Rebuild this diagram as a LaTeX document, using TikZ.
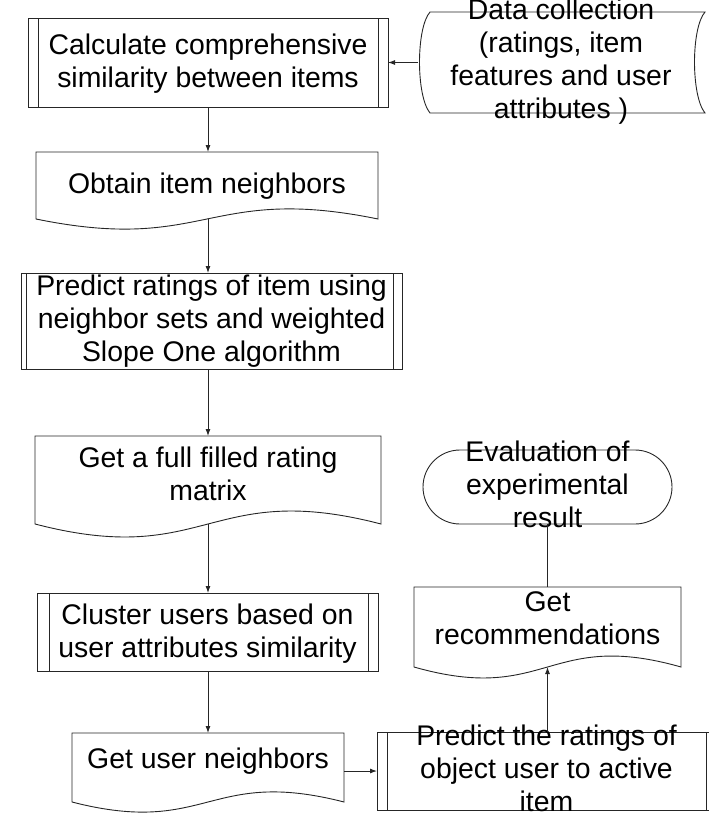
\documentclass[tikz,border=0pt]{standalone}
\usepackage{fontspec}
\setmainfont{Liberation Sans}
\usetikzlibrary{arrows.meta,calc}

% drawing helpers for the flowchart symbols
\newcommand\predefshape[3]{% node, left inset, right inset
  \draw[outline] (#1.north west) rectangle (#1.south east);
  \draw[outline] ([xshift=#2]#1.north west) -- ([xshift=#2]#1.south west)
                 ([xshift=-#3]#1.north east) -- ([xshift=-#3]#1.south east);}
\newcommand\docshape[2]{% node, wave amplitude
  \draw[outline] (#1.south west) -- (#1.north west) -- (#1.north east) -- (#1.south east)
    .. controls ([yshift=#2]#1.south) and ([yshift=-#2]#1.south) .. (#1.south west) -- cycle;}

\tikzset{
  box/.style={draw=none, rectangle, inner sep=0pt, outer sep=0pt},
  txt/.style={font=\fontsize{28.4}{33}\selectfont, align=center, inner sep=0pt, text=black},
  outline/.style={draw=black!85, line width=0.9pt},
  flow/.style={draw=black!85, line width=0.9pt, -{Latex[length=7pt,width=5pt]}},
  plainline/.style={draw=black!85, line width=0.9pt},
}

\begin{document}
\begin{tikzpicture}[x=1pt, y=-1pt]
\useasboundingbox (0,0) rectangle (709,814);
\clip (0,0) rectangle (709,814);

% symbol frames
\node[box, minimum width=360, minimum height=89] (calc) at (208,62.5) {};
\node[box, minimum width=287, minimum height=101] (data) at (561.5,62.5) {};
\node[box, minimum width=342, minimum height=67] (obtain) at (207,185.5) {};
\node[box, minimum width=381, minimum height=96] (predict) at (211.5,321) {};
\node[box, minimum width=346, minimum height=88] (fullmat) at (208,480) {};
\node[box, minimum width=341, minimum height=78] (cluster) at (207.5,632) {};
\node[box, minimum width=272, minimum height=69] (userngb) at (208,767.5) {};
\node[box, minimum width=339, minimum height=78] (predobj) at (546.5,771) {};
\node[box, minimum width=267, minimum height=80] (recs) at (547.5,627) {};
\node[box, draw=black!85, line width=0.9pt, rounded corners=37pt,
      minimum width=249, minimum height=74] (eval) at (547.5,487) {};

% predefined processes
\predefshape{calc}{10}{10}
\predefshape{predict}{5}{9}
\predefshape{cluster}{12}{10}
\predefshape{predobj}{10}{10}

% documents
\docshape{obtain}{35}
\docshape{fullmat}{45}
\docshape{userngb}{35}
\docshape{recs}{38}

% stored data
\draw[outline] ([xshift=12]data.north west) -- (data.north east)
  .. controls ([xshift=-14,yshift=-16]data.north east) and ([xshift=-14,yshift=17]data.south east) .. (data.south east)
  -- ([xshift=12]data.south west)
  .. controls ([xshift=-2,yshift=17]data.south west) and ([xshift=-2,yshift=-16]data.north west) .. cycle;

% texts
\node[txt] (calc-t) at (208,64) {Calculate comprehensive\\similarity between items};
\node[txt] (data-t) at (561,62) {Data collection\\(ratings, item\\features and user\\attributes )};
\node[txt] (obtain-t) at (207,186) {Obtain item neighbors};
\node[txt] (predict-t) at (211.5,321) {Predict ratings of item using\\neighbor sets and weighted\\Slope One algorithm};
\node[txt] (fullmat-t) at (208,474) {Get a full filled rating\\matrix};
\node[txt] (cluster-t) at (207.5,634) {Cluster users based on\\user attributes similarity};
\node[txt] (userngb-t) at (208,761) {Get user neighbors};
\node[txt] (predobj-t) at (546.5,768) {Predict the ratings of\\object user to active\\item};
\node[txt] (recs-t) at (547.5,618) {Get\\recommendations};
\node[txt] (eval-t) at (547.5,484) {Evaluation of\\experimental\\result};

% connectors
\draw[flow] (data.west) -- (calc.east |- data.west);
\draw[flow] (calc.south) -- (calc.south |- obtain.north);
\draw[flow] (obtain.south -| calc.south) -- (calc.south |- predict.north);
\draw[flow] (predict.south -| fullmat.north) -- (fullmat.north);
\draw[flow] (fullmat.south) -- (fullmat.south |- cluster.north);
\draw[flow] (cluster.south -| userngb.north) -- (userngb.north);
\draw[flow] (userngb.east |- predobj.west) -- (predobj.west);
\draw[flow] (predobj.north -| recs.south) -- (recs.south);
\draw[plainline] (recs.north) -- (eval.south);
\end{tikzpicture}
\end{document}
